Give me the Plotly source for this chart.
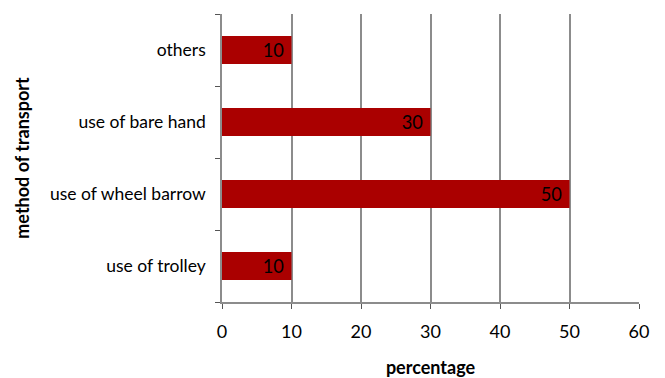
import plotly.graph_objects as go

categories = ["use of trolley", "use of wheel barrow", "use of bare hand", "others"]
values = [10, 50, 30, 10]
x_ticks = [0, 10, 20, 30, 40, 50, 60]

FONT = "Lato"
fig = go.Figure(go.Bar(
    y=categories, x=values, orientation="h",
    marker=dict(color="#AA0000", line=dict(width=0)),
    text=[str(v) + "\u00a0" for v in values], textposition="inside", insidetextanchor="end",
    textfont=dict(family=FONT, size=19, color="black"),
    cliponaxis=False,
))
fig.update_layout(
    width=665, height=378,
    margin=dict(l=222, r=26, t=14, b=76, autoexpand=False),
    paper_bgcolor="white", plot_bgcolor="white",
    bargap=0.61, showlegend=False,
    font=dict(family=FONT, size=17, color="black"),
    uniformtext=dict(mode="show", minsize=8),
)
fig.update_xaxes(
    range=[0, 60], tickvals=x_ticks, ticktext=[str(t) for t in x_ticks],
    showgrid=True, gridcolor="#8c8c8c", gridwidth=1.5,
    showline=True, linecolor="#8c8c8c", linewidth=1.5,
    ticks="outside", ticklen=5, tickcolor="#555", tickwidth=1,
    ticklabelstandoff=8, tickfont=dict(size=18),
    title=dict(text="<b>percentage</b>", font=dict(size=18), standoff=28),
    zeroline=False, automargin=False,
)
fig.update_yaxes(
    categoryorder="array", categoryarray=categories,
    showline=True, linecolor="#8c8c8c", linewidth=1.5,
    ticks="outside", ticklen=5, tickcolor="#555", tickson="boundaries",
    ticklabelstandoff=11, tickfont=dict(size=17.5),
    title=dict(text="<b>method of transport</b>", font=dict(size=18), standoff=16),
    showgrid=False, automargin=False,
)
fig.write_html("out.html")
